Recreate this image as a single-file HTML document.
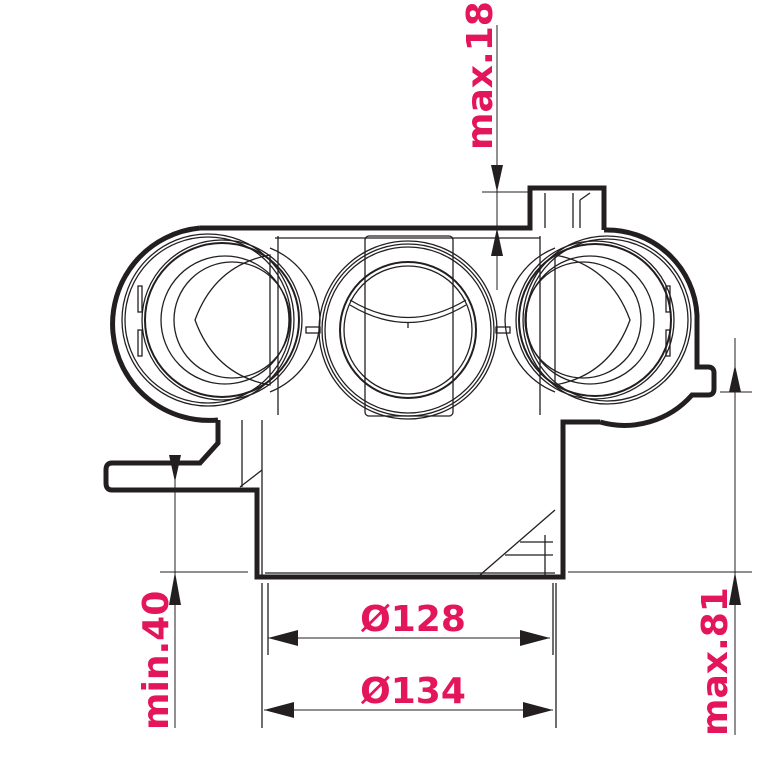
<!DOCTYPE html>
<html><head><meta charset="utf-8"><style>
html,body{margin:0;padding:0;background:#fff;}
svg{display:block;}
.t{font-family:"DejaVu Sans","Liberation Sans",sans-serif;font-weight:bold;fill:#e4165b;font-size:36px;}
</style></head><body>
<svg width="758" height="772" viewBox="0 0 758 772" xmlns="http://www.w3.org/2000/svg">
<g fill="none" stroke="#231f20">
<!-- thick outline -->
<g stroke-width="5" stroke-linejoin="miter">
<path d="M200 228 L530 228 L530 188 L604 188 L604 230"/>
<path d="M200 228 A92 92 0 0 0 218 420"/>
<path d="M218 420 L218 443 L200 463 L112 463 Q106 463 106 470 L106 483 Q106 490 112 490 L257 490 L257 577 L563 577 L563 422 L600 422"/>
<path d="M604 230 A90 90 0 0 1 697 315 L697 367 L708 367 Q714 367 714 373 L714 389 Q714 395 708 395 L692 395 A90 90 0 0 1 600 422"/>
</g>
<!-- thin lines -->
<g stroke-width="1.3">
<line x1="275" y1="238" x2="540" y2="238"/>
<line x1="278" y1="236" x2="278" y2="415"/>
<line x1="540" y1="236" x2="540" y2="415"/>
<rect x="365" y="236" width="88" height="180" rx="4"/>
<!-- middle -->
<circle cx="408" cy="330" r="89"/>
<circle cx="408" cy="330" r="86"/>
<circle cx="408" cy="330" r="83"/>
<circle cx="408" cy="330" r="68" stroke-width="2"/>
<circle cx="408" cy="330" r="64"/>
<path d="M350 300 Q408 335 466 300"/>
<path d="M350 305 Q408 340 466 305"/>
<line x1="408" y1="322" x2="408" y2="328"/>
<rect x="306" y="327" width="14" height="6"/>
<rect x="496" y="327" width="14" height="6"/>
<!-- left -->
<circle cx="208" cy="320" r="86"/>
<circle cx="208" cy="320" r="83"/>
<circle cx="222" cy="320" r="80"/>
<circle cx="222" cy="320" r="77" stroke-width="2"/>
<circle cx="225" cy="320" r="64"/>
<circle cx="232" cy="320" r="58"/>
<path d="M270 255 Q215 265 195 320 Q215 375 270 385 Z"/>
<path d="M270 248 A80 80 0 0 1 320 320 A80 80 0 0 1 270 392"/>
<rect x="138" y="286" width="4" height="26"/><rect x="138" y="330" width="4" height="26"/>
<!-- right -->
<circle cx="607" cy="320" r="84"/>
<circle cx="607" cy="320" r="81"/>
<circle cx="595" cy="320" r="79"/>
<circle cx="595" cy="320" r="76" stroke-width="2"/>
<circle cx="590" cy="320" r="64"/>
<circle cx="583" cy="320" r="58"/>
<path d="M555 255 Q610 265 630 320 Q610 375 555 385 Z"/>
<path d="M555 248 A80 80 0 0 0 505 320 A80 80 0 0 0 555 392"/>
<rect x="666" y="286" width="4" height="26"/><rect x="666" y="330" width="4" height="26"/>
<!-- nozzle top inner -->
<line x1="545" y1="193" x2="545" y2="228"/><line x1="573" y1="193" x2="573" y2="228"/>
<line x1="580" y1="200" x2="580" y2="228"/><line x1="580" y1="200" x2="590" y2="193"/>
<!-- left lower details -->
<line x1="242" y1="420" x2="242" y2="487"/>
<line x1="262" y1="420" x2="262" y2="577"/>
<line x1="262" y1="470" x2="240" y2="487"/>
<line x1="268" y1="583" x2="268" y2="655"/>
<line x1="262" y1="583" x2="262" y2="728"/>
<line x1="553" y1="583" x2="553" y2="655"/>
<line x1="556" y1="583" x2="556" y2="728"/>
<!-- right lower details -->
<line x1="555" y1="510" x2="480" y2="575"/>
<line x1="505" y1="555" x2="553" y2="555"/>
<line x1="520" y1="542" x2="553" y2="542"/>
<line x1="545" y1="535" x2="545" y2="575"/>
<line x1="265" y1="573" x2="555" y2="573"/>
</g>
<!-- dimension lines -->
<g stroke-width="1">
<line x1="497" y1="25" x2="497" y2="290"/>
<line x1="482" y1="192" x2="530" y2="192"/>
<line x1="175" y1="455" x2="175" y2="728"/>
<line x1="160" y1="572" x2="248" y2="572"/>
<line x1="735" y1="338" x2="735" y2="735"/>
<line x1="720" y1="392" x2="752" y2="392"/>
<line x1="568" y1="572" x2="752" y2="572"/>
<line x1="268" y1="638" x2="550" y2="638"/>
<line x1="264" y1="710" x2="553" y2="710"/>
</g>
</g>
<g fill="#231f20">
<polygon points="491,165 503,165 497,192"/>
<polygon points="491,256 503,256 497,228"/>
<polygon points="169,455 181,455 175,482"/>
<polygon points="169,605 181,605 175,572"/>
<polygon points="729,392 741,392 735,365"/>
<polygon points="729,605 741,605 735,572"/>
<polygon points="268,638 298,630 298,646"/>
<polygon points="550,638 520,630 520,646"/>
<polygon points="264,710 294,702 294,718"/>
<polygon points="553,710 523,702 523,718"/>
</g>
<text class="t" x="413" y="631" text-anchor="middle">Ø128</text>
<text class="t" x="413" y="703" text-anchor="middle">Ø134</text>
<text class="t" transform="translate(492,150) rotate(-90)">max.18</text>
<text class="t" transform="translate(168,730) rotate(-90)">min.40</text>
<text class="t" transform="translate(727,736) rotate(-90)">max.81</text>
</svg>
</body></html>
